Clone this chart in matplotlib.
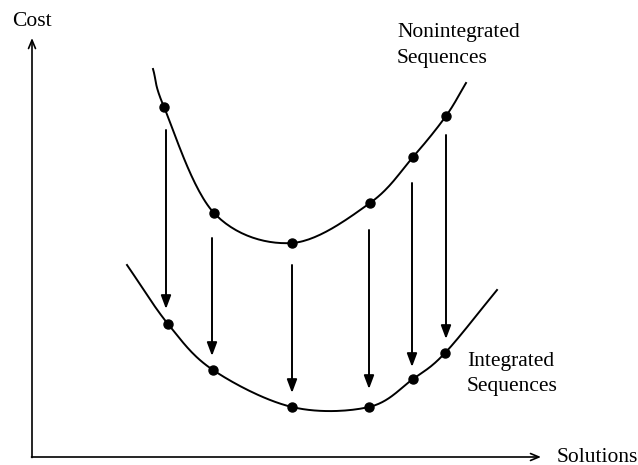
import numpy as np
import matplotlib
matplotlib.use("Agg")
import matplotlib.pyplot as plt

plt.rcParams['font.family'] = ['Liberation Serif', 'DejaVu Serif']

# sketch coordinates (picture units, y grows downward)
upper_curve_x = [153, 164, 214, 292, 370, 413, 446, 466]
upper_curve_y = [69, 107, 213, 243, 203, 157, 116, 83]
upper_pts_x = [164, 214, 292, 370, 413, 446]
upper_pts_y = [107, 213, 243, 203, 157, 116]

lower_curve_x = [127, 168, 213, 292, 369, 413, 445, 497]
lower_curve_y = [265, 324, 370, 407, 407, 379, 353, 290]
lower_pts_x = [168, 213, 292, 369, 413, 445]
lower_pts_y = [324, 370, 407, 407, 379, 353]

arrow_x = [166, 212, 292, 369, 412, 446]
arrow_top = [130, 238, 265, 230, 183, 135]
arrow_bot = [309, 356, 393, 389, 367, 339]


def catmull(xs, ys, n=30):
    p = np.column_stack([xs, ys]).astype(float)
    p = np.vstack([2 * p[0] - p[1], p, 2 * p[-1] - p[-2]])
    out = []
    for i in range(1, len(p) - 2):
        p0, p1, p2, p3 = p[i - 1], p[i], p[i + 1], p[i + 2]
        t = np.linspace(0, 1, n)[:, None]
        seg = 0.5 * ((2 * p1) + (-p0 + p2) * t + (2 * p0 - 5 * p1 + 4 * p2 - p3) * t ** 2
                     + (-p0 + 3 * p1 - 3 * p2 + p3) * t ** 3)
        out.append(seg)
    out = np.vstack(out)
    return out[:, 0], out[:, 1]


fig = plt.figure(figsize=(6.38, 4.65), dpi=100)
ax = fig.add_axes([0, 0, 1, 1])
ax.set_xlim(0, 638)
ax.set_ylim(465, 0)
ax.axis('off')

for cx, cy in [(upper_curve_x, upper_curve_y), (lower_curve_x, lower_curve_y)]:
    sx, sy = catmull(cx, cy)
    ax.plot(sx, sy, color='black', lw=1.4)

ax.plot(upper_pts_x, upper_pts_y, 'o', color='black', ms=6.5)
ax.plot(lower_pts_x, lower_pts_y, 'o', color='black', ms=6.5)

for x, y0, y1 in zip(arrow_x, arrow_top, arrow_bot):
    ax.annotate('', xy=(x, y1), xytext=(x, y0),
                arrowprops=dict(arrowstyle='-|>,head_length=0.8,head_width=0.3',
                                color='black', lw=1.4, shrinkA=0, shrinkB=0))

# axes
ax.annotate('', xy=(32, 38), xytext=(32, 457.5),
            arrowprops=dict(arrowstyle='->,head_length=0.6,head_width=0.25',
                            color='black', lw=1.2, shrinkA=0, shrinkB=0))
ax.annotate('', xy=(541, 457), xytext=(31.5, 457),
            arrowprops=dict(arrowstyle='->,head_length=0.6,head_width=0.25',
                            color='black', lw=1.2, shrinkA=0, shrinkB=0))

fs = 15.5
ax.text(12, 22, 'Cost', fontsize=fs, va='center', ha='left')
ax.text(557, 457, 'Solutions', fontsize=fs, va='center', ha='left')
ax.text(397, 33, 'Nonintegrated', fontsize=fs, va='center', ha='left')
ax.text(397, 58, 'Sequences', fontsize=fs, va='center', ha='left')
ax.text(467, 361, 'Integrated', fontsize=fs, va='center', ha='left')
ax.text(467, 386, 'Sequences', fontsize=fs, va='center', ha='left')

fig.savefig('out.png', dpi=100)
